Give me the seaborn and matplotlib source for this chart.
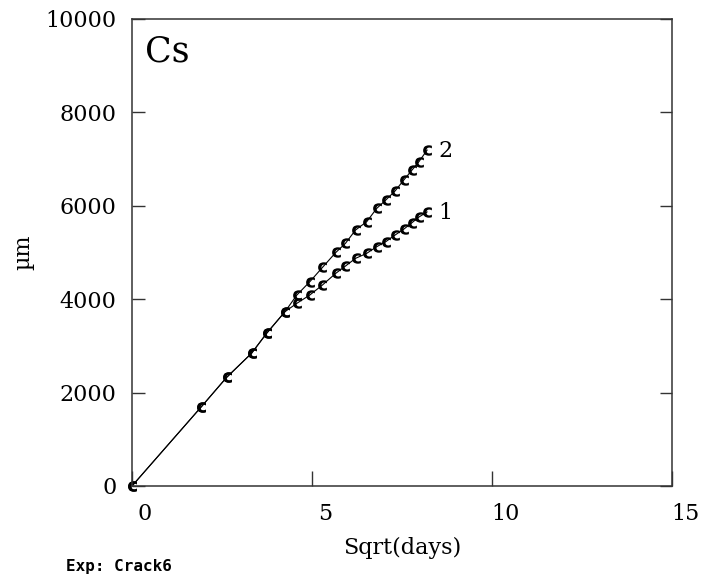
import numpy as np
import pandas as pd
import matplotlib
matplotlib.use("Agg")
import matplotlib.pyplot as plt
import matplotlib.transforms as mtransforms
import seaborn as sns

# Penetration depth of Cs versus square root of time, experiment Crack6
shared_x = [0.0, 1.93, 2.63, 3.32, 3.74, 4.25]
shared_y = [0, 1700, 2327, 2841, 3270, 3733]

split_x = [4.58, 4.94, 5.29, 5.66, 5.93, 6.21, 6.52, 6.80, 7.05, 7.31, 7.55, 7.78, 7.97, 8.20]
series1_y = [3912, 4090, 4304, 4554, 4710, 4875, 4982, 5125, 5232, 5375, 5500, 5640, 5760, 5870]
series2_y = [4090, 4375, 4680, 5000, 5197, 5482, 5660, 5946, 6124, 6320, 6552, 6767, 6945, 7195]

series_names = ["1", "2"]
x_ticks = [0, 5, 10, 15]
y_ticks = [0, 2000, 4000, 6000, 8000, 10000]

sns.set_theme(style="white")
plt.rcParams["font.family"] = ["DejaVu Serif"]
plt.rcParams["text.color"] = "black"
plt.rcParams["axes.labelcolor"] = "black"
plt.rcParams["xtick.color"] = "black"
plt.rcParams["ytick.color"] = "black"

rows = []
for name, ys in zip(series_names, [series1_y, series2_y]):
    for xv, yv in zip(shared_x + split_x, shared_y + ys):
        rows.append({"series": name, "x": xv, "y": yv})
df = pd.DataFrame(rows)

fig = plt.figure(figsize=(7.01, 5.75), dpi=100)
ax = fig.add_axes([132 / 701, 1 - 486 / 575, 540 / 701, 467 / 575])

for name in series_names:
    sub = df[df["series"] == name]
    sns.lineplot(data=sub, x="x", y="y", ax=ax, sort=False, color="black",
                 linewidth=0.8, marker=r"$\mathbf{c}$", markersize=7.5,
                 markeredgewidth=0, markerfacecolor="black", clip_on=False,
                 legend=False)
    last = sub.iloc[-1]
    ax.annotate(name, (last["x"], last["y"]), xytext=(8, -1),
                textcoords="offset points", ha="left", va="center",
                fontsize=16, color="black")

ax.set_xlim(0, 15)
ax.set_ylim(0, 10000)
ax.set_xticks(x_ticks)
ax.set_yticks(y_ticks)
ax.set_xticklabels([str(t) for t in x_ticks], fontsize=16)
ax.set_yticklabels([str(t) for t in y_ticks], fontsize=16)
ax.tick_params(axis="x", direction="in", length=11, width=1.0, pad=12,
               color="#333333", labelcolor="black", bottom=True, top=False)
ax.tick_params(axis="y", direction="in", length=9, width=1.0, pad=11,
               color="#333333", labelcolor="black", left=True, right=True)

# x tick labels sit slightly to the right of their ticks
offset = mtransforms.ScaledTranslation(13 / 100, 0, fig.dpi_scale_trans)
for lbl in ax.get_xticklabels():
    lbl.set_transform(lbl.get_transform() + offset)

for sp in ax.spines.values():
    sp.set_visible(True)
    sp.set_color("#333333")
    sp.set_linewidth(1.1)

ax.set_xlabel("Sqrt(days)", fontsize=16, labelpad=9, color="black")
ax.set_ylabel("µm", fontsize=16, labelpad=8, color="black")
ax.text(0.024, 0.967, "Cs", transform=ax.transAxes, fontsize=25,
        ha="left", va="top", color="black")
fig.text(66 / 701, 1 - 566 / 575, "Exp: Crack6", fontsize=11.5,
         family="DejaVu Sans Mono", fontweight="bold", ha="left", va="center",
         color="black")

fig.savefig("out.png", dpi=100, facecolor="white")
